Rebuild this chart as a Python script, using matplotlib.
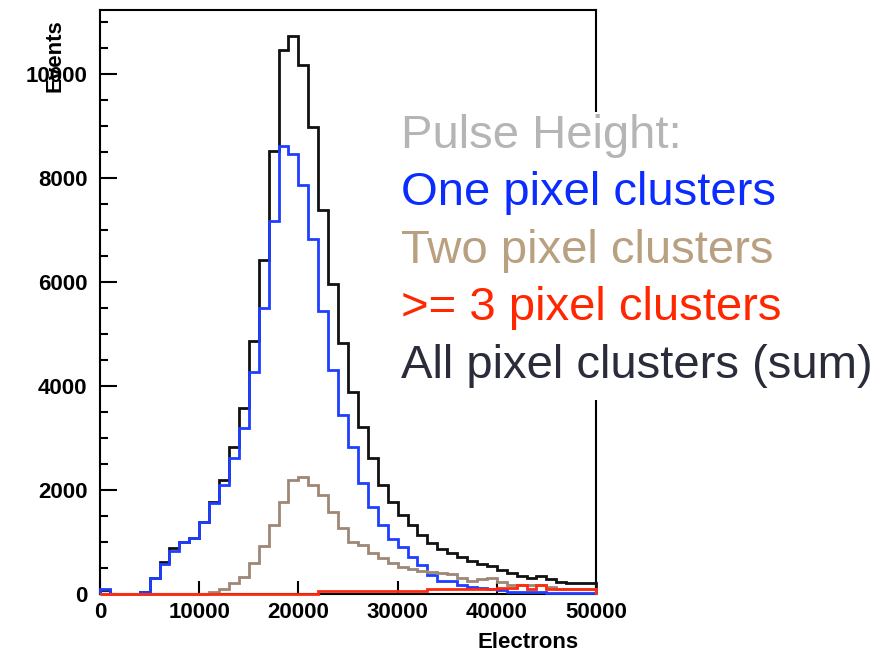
"""
Pulse height spectra for pixel clusters, split by cluster size.
Histograms in 1000-electron bins, drawn in a ROOT-like style.
"""

import numpy as np
import matplotlib.pyplot as plt
from matplotlib.patches import Rectangle
from matplotlib.ticker import MultipleLocator

plt.rcParams['font.family'] = ['Liberation Sans', 'DejaVu Sans']

BIN_EDGES = np.arange(0, 51000, 1000)

# counts per 1000-electron bin (50 bins, 0 .. 50000)
all_clusters = [
    70, 0, 0, 0, 20, 290, 610, 867, 990, 1070,
    1380, 1770, 2190, 2813, 3575, 4856, 6417, 8517, 10460, 10730,
    10170, 8980, 7380, 5950, 4818, 3873, 3199, 2601, 2081, 1754,
    1503, 1310, 1118, 975, 860, 771, 700, 630, 570, 530,
    443, 395, 330, 290, 330, 270, 230, 210, 193, 193,
]
one_pixel = [
    80, 0, 0, 0, 20, 290, 560, 820, 990, 1060,
    1368, 1734, 2081, 2601, 3180, 4259, 5500, 7180, 8614, 8460,
    7862, 6822, 5434, 4297, 3440, 2813, 2120, 1657, 1310, 1040,
    886, 694, 540, 347, 250, 240, 154, 125, 115, 80,
    60, 20, 20, 20, 20, 5, 5, 5, 5, 5,
]
two_pixel = [
    0, 0, 0, 0, 0, 0, 0, 0, 0, 0,
    0, 30, 96, 193, 310, 590, 906, 1310, 1770, 2177,
    2235, 2081, 1888, 1561, 1252, 983, 925, 771, 674, 578,
    501, 462, 424, 405, 385, 370, 300, 250, 270, 290,
    212, 173, 173, 154, 154, 116, 96, 96, 96, 96,
]
three_plus = [
    0, 0, 0, 0, 0, 0, 0, 0, 0, 0,
    0, 0, 0, 0, 0, 0, 0, 0, 0, 0,
    0, 0, 45, 45, 45, 45, 45, 45, 45, 45,
    45, 45, 45, 85, 85, 85, 85, 85, 85, 85,
    110, 110, 173, 96, 173, 90, 90, 90, 90, 90,
]

legend_lines = [
    ('Pulse Height:', '#b5b5b5'),
    ('One pixel clusters', '#0a2cff'),
    ('Two pixel clusters', '#b8a080'),
    ('>= 3 pixel clusters', '#ff2600'),
    ('All pixel clusters (sum)', '#2a2c3a'),
]

W, H = 885, 653


def plot_pulse_height():
    fig = plt.figure(figsize=(W / 100, H / 100), dpi=100)
    ax = fig.add_axes([100 / W, 1 - 593.5 / H, 496 / W, 583.5 / H])

    series = [
        (all_clusters, '#111111'),
        (one_pixel, '#1f3fff'),
        (two_pixel, '#9e8776'),
        (three_plus, '#ff2a10'),
    ]
    for z, (vals, col) in enumerate(series):
        ax.stairs(vals, BIN_EDGES, color=col, linewidth=2.0,
                  zorder=3 + z, clip_on=False)

    ax.set_xlim(0, 50000)
    ax.set_ylim(0, 11232)

    ax.xaxis.set_major_locator(MultipleLocator(10000))
    ax.yaxis.set_major_locator(MultipleLocator(2000))
    ax.yaxis.set_minor_locator(MultipleLocator(500))
    ax.tick_params(axis='x', which='major', direction='in', length=9.5,
                   width=1.5, pad=6, labelsize=16)
    ax.tick_params(axis='y', which='major', direction='in', length=12,
                   width=1.5, pad=9, labelsize=16)
    ax.tick_params(axis='y', which='minor', direction='in', length=6,
                   width=1.5)
    for lab in ax.get_xticklabels() + ax.get_yticklabels():
        lab.set_fontweight('bold')
    for sp in ax.spines.values():
        sp.set_linewidth(1.5)

    ax.set_xlabel('Electrons', fontsize=16, fontweight='bold', loc='right')
    ax.xaxis.set_label_coords(0.964, -0.066)
    ax.set_ylabel('Events', fontsize=16, fontweight='bold', loc='top')
    ax.yaxis.label.set_va('center')
    ax.yaxis.set_label_coords(-0.091, 0.985)

    # white panel behind the annotation text
    fig.patches.append(Rectangle((392 / W, 1 - 400 / H), (W - 392) / W,
                                 288 / H, transform=fig.transFigure,
                                 facecolor='white', edgecolor='none',
                                 zorder=5))

    baselines = [148, 205, 263, 320, 378]
    for (txt, col), yb in zip(legend_lines, baselines):
        fig.text(401 / W, 1 - yb / H, txt, color=col, fontsize=34,
                 ha='left', va='baseline', zorder=6)

    fig.savefig('out.png', dpi=100)


if __name__ == "__main__":
    plot_pulse_height()
